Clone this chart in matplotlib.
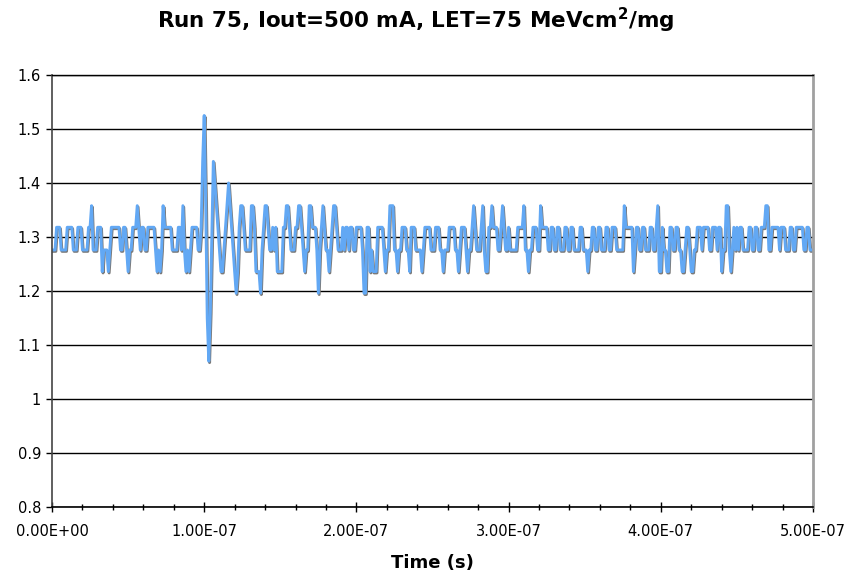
import numpy as np
import matplotlib
matplotlib.use("Agg")
import matplotlib.pyplot as plt
import matplotlib.patheffects as pe
from matplotlib.ticker import MultipleLocator, FuncFormatter

# Output voltage trace, stored as the times (ns) where the scope level changes
# and the level (V) held from that sample on
change_ns = [
    0, 3, 6, 10, 14, 17, 20, 24, 26, 27,
    30, 33, 34, 37, 38, 39, 45, 47, 49, 50,
    51, 53, 56, 57, 58, 59, 61, 63, 68, 69,
    70, 71, 72, 73, 74, 79, 83, 85, 86, 87,
    88, 89, 90, 91, 92, 96,
    98, 99, 100, 101, 102, 103, 104, 105, 106, 107,
    108, 109, 110, 111, 113, 114, 115, 116, 117, 118,
    119, 120, 121, 122, 123, 124, 126, 127, 131, 133,
    134, 137, 138, 139, 140, 142, 143, 145, 146, 147,
    148, 152, 154, 156, 157, 160, 162, 164, 165, 166,
    167, 169, 171, 174, 175, 176, 177, 178, 179, 180,
    182, 183, 184, 185, 187, 188, 191, 192, 193, 195,
    196, 198, 200, 204, 205, 207, 209, 210, 211, 214,
    218, 219, 220, 222, 225, 227, 228, 230, 233, 235,
    236, 239, 243, 244, 245, 249, 252, 255, 257, 258,
    261, 265, 267, 268, 269, 272, 273, 274, 276, 277,
    278, 279, 282, 283, 284, 285, 287, 289, 290, 293,
    295, 296, 297,
    298, 300, 301, 306, 310, 311, 313, 314, 316, 319,
    321, 322, 326, 328, 330, 332, 334, 337, 339, 341,
    343, 347, 349, 352, 353, 355, 357, 359, 361, 364,
    366, 368, 371, 376, 377, 382, 383, 384, 386, 388,
    390, 393, 395,
    397, 398, 399, 401, 402, 404, 406, 408, 410, 412,
    414, 416, 417, 419, 420, 422, 424, 427, 428, 432,
    434, 437, 438, 440, 441, 443, 445, 446, 447, 448,
    449, 450, 451, 452, 454, 458, 460, 462, 464, 466,
    469, 471, 473, 478, 479, 482, 485, 487, 489, 494,
    496, 498,
]
level_v = [
    1.276, 1.318, 1.276, 1.318, 1.276, 1.318, 1.276, 1.318, 1.358, 1.276,
    1.318, 1.236, 1.276, 1.236, 1.276, 1.318, 1.276, 1.318, 1.276, 1.236,
    1.276, 1.318, 1.358, 1.318, 1.276, 1.318, 1.276, 1.318, 1.276, 1.236,
    1.276, 1.236, 1.276, 1.358, 1.318, 1.276, 1.318, 1.276, 1.358, 1.276,
    1.236, 1.276, 1.236, 1.276, 1.318, 1.276,
    1.318, 1.44, 1.525, 1.36, 1.15, 1.07, 1.16, 1.30, 1.44, 1.40,
    1.36, 1.318, 1.276, 1.236, 1.276, 1.318, 1.36, 1.40, 1.36, 1.318,
    1.276, 1.236, 1.196, 1.236, 1.318, 1.358, 1.318, 1.276, 1.358, 1.318,
    1.236, 1.196, 1.276, 1.318, 1.358, 1.318, 1.276, 1.318, 1.276, 1.318,
    1.236, 1.318, 1.358, 1.318, 1.276, 1.318, 1.358, 1.318, 1.276, 1.236,
    1.276, 1.358, 1.318, 1.276, 1.196, 1.276, 1.318, 1.358, 1.318, 1.276,
    1.236, 1.276, 1.318, 1.358, 1.318, 1.276, 1.318, 1.276, 1.318, 1.276,
    1.318, 1.276, 1.318, 1.276, 1.196, 1.318, 1.236, 1.276, 1.236, 1.318,
    1.276, 1.236, 1.276, 1.358, 1.276, 1.236, 1.276, 1.318, 1.276, 1.236,
    1.318, 1.276, 1.236, 1.276, 1.318, 1.276, 1.318, 1.276, 1.236, 1.276,
    1.318, 1.276, 1.236, 1.276, 1.318, 1.276, 1.236, 1.276, 1.318, 1.358,
    1.318, 1.276, 1.318, 1.358, 1.276, 1.236, 1.318, 1.358, 1.318, 1.276,
    1.318, 1.358, 1.318,
    1.276, 1.318, 1.276, 1.318, 1.358, 1.276, 1.236, 1.276, 1.318, 1.276,
    1.358, 1.318, 1.276, 1.318, 1.276, 1.318, 1.276, 1.318, 1.276, 1.318,
    1.276, 1.318, 1.276, 1.236, 1.276, 1.318, 1.276, 1.318, 1.276, 1.318,
    1.276, 1.318, 1.276, 1.358, 1.318, 1.236, 1.276, 1.318, 1.276, 1.318,
    1.276, 1.318, 1.276,
    1.318, 1.358, 1.236, 1.318, 1.276, 1.236, 1.318, 1.276, 1.318, 1.276,
    1.236, 1.276, 1.318, 1.276, 1.236, 1.276, 1.318, 1.276, 1.318, 1.276,
    1.318, 1.276, 1.318, 1.236, 1.276, 1.358, 1.276, 1.236, 1.276, 1.318,
    1.276, 1.318, 1.276, 1.318, 1.276, 1.318, 1.276, 1.318, 1.276, 1.318,
    1.358, 1.276, 1.318, 1.276, 1.318, 1.276, 1.318, 1.276, 1.318, 1.276,
    1.318, 1.276,
]
assert len(change_ns) == len(level_v)

# 1 ns scope samples over the 500 ns record
t_ns = np.arange(0, 501)
idx = np.searchsorted(change_ns, t_ns, side="right") - 1
vout = np.asarray(level_v)[idx]
t_s = t_ns * 1e-9

fig = plt.figure(figsize=(8.52, 5.75), dpi=100)
ax = fig.add_axes([52 / 852, 1 - 507 / 575, (813 - 52) / 852, (507 - 75) / 575])

ax.plot(t_s, vout, color="#62a8f4", lw=2.1, solid_joinstyle="round",
        path_effects=[pe.SimpleLineShadow(offset=(0.6, -1.0), shadow_color="#7a7a7a", alpha=1.0),
                      pe.Normal()])

ax.set_xlim(0, 5e-7)
ax.set_ylim(0.8, 1.6)
ax.xaxis.set_major_locator(MultipleLocator(1e-7))
ax.xaxis.set_minor_locator(MultipleLocator(2e-8))
ax.yaxis.set_major_locator(MultipleLocator(0.1))
ax.xaxis.set_major_formatter(FuncFormatter(lambda x, p: "%.2E" % x))
ax.yaxis.set_major_formatter(FuncFormatter(lambda y, p: "%g" % round(y, 2)))

ax.yaxis.grid(True, color="black", lw=1.0)
ax.set_axisbelow(True)

ax.tick_params(axis="x", which="major", direction="inout", length=7, width=1, pad=9,
               labelsize=10.5, colors="black")
ax.tick_params(axis="x", which="minor", direction="inout", length=5, width=1)
ax.tick_params(axis="y", direction="out", length=4, width=1, pad=4, labelsize=10.5)

ax.spines["top"].set_color("black")
ax.spines["top"].set_linewidth(1.0)
ax.spines["bottom"].set_color("black")
ax.spines["bottom"].set_linewidth(1.2)
ax.spines["left"].set_color("#444444")
ax.spines["left"].set_linewidth(1.2)
ax.spines["right"].set_color("#a0a0a0")
ax.spines["right"].set_linewidth(2.0)

fig.text(0.488, 1 - 20 / 575, r"Run 75, Iout=500 mA, LET=75 MeVcm$^{\mathbf{2}}$/mg",
         ha="center", va="center", fontsize=15.5, fontweight="bold")
fig.text(432 / 852, 1 - 563 / 575, "Time (s)", ha="center", va="center",
         fontsize=13, fontweight="bold")

fig.savefig("out.png", dpi=100)
